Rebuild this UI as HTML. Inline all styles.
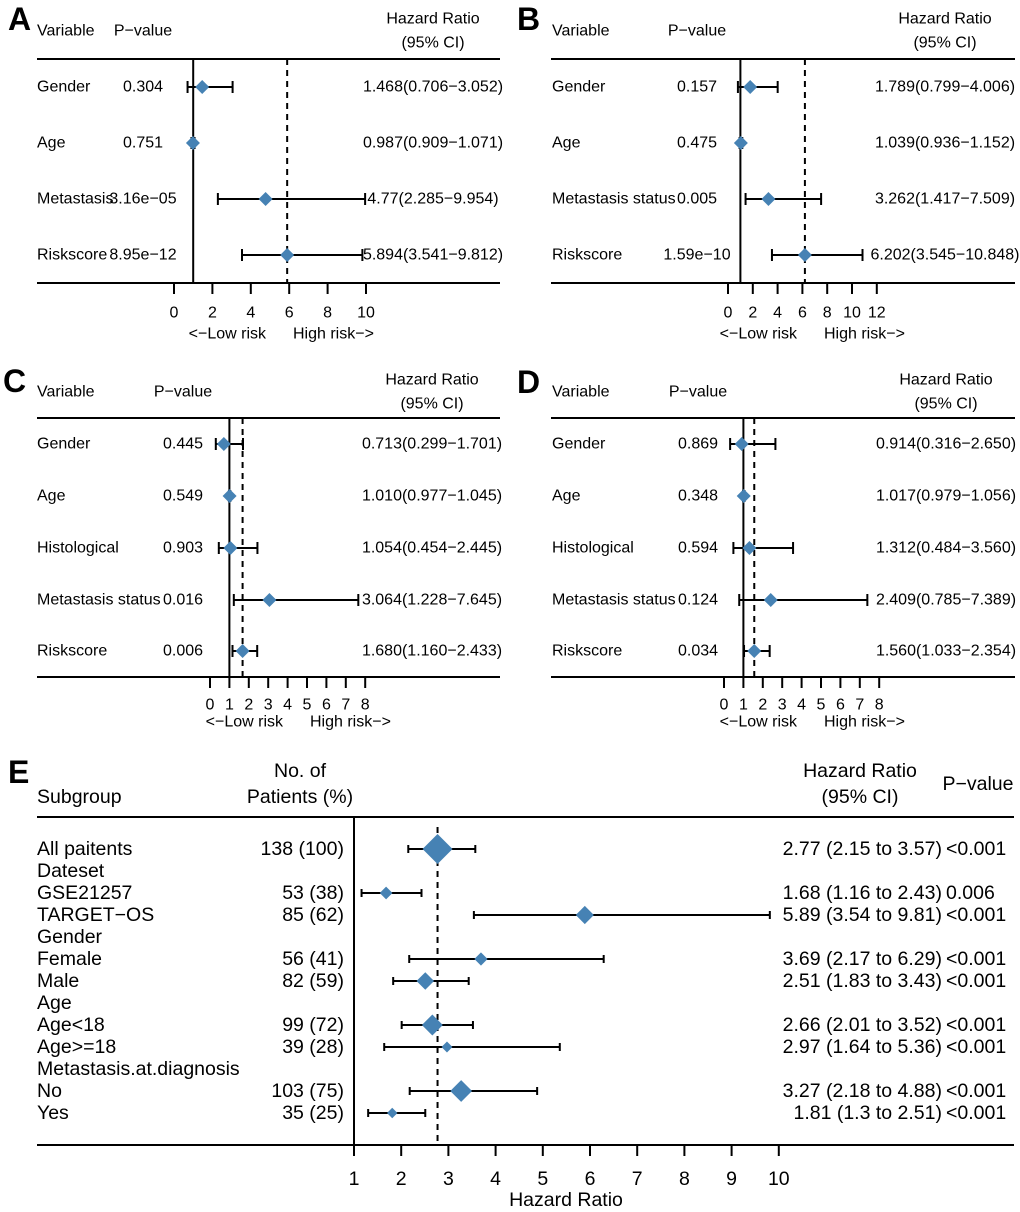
<!DOCTYPE html>
<html><head><meta charset="utf-8"><style>
html,body{margin:0;padding:0;background:#fff;}
svg{display:block;font-family:"Liberation Sans",Arial,sans-serif;}
</style></head><body>
<svg id="fig" width="1020" height="1212" viewBox="0 0 1020 1212" xmlns="http://www.w3.org/2000/svg"></svg>
<script>
// ---- Panel A data ----
const aVars = ["Gender","Age","Metastasis","Riskscore"];
const aP = ["0.304","0.751","3.16e\u221205","8.95e\u221212"];
const aHR = [1.468,0.987,4.77,5.894];
const aLo = [0.706,0.909,2.285,3.541];
const aHi = [3.052,1.071,9.954,9.812];
const aLabels = ["1.468(0.706\u22123.052)","0.987(0.909\u22121.071)","4.77(2.285\u22129.954)","5.894(3.541\u22129.812)"];
const aTicks = [0,2,4,6,8,10];
// ---- Panel B data ----
const bVars = ["Gender","Age","Metastasis status","Riskscore"];
const bP = ["0.157","0.475","0.005","1.59e\u221210"];
const bHR = [1.789,1.039,3.262,6.202];
const bLo = [0.799,0.936,1.417,3.545];
const bHi = [4.006,1.152,7.509,10.848];
const bLabels = ["1.789(0.799\u22124.006)","1.039(0.936\u22121.152)","3.262(1.417\u22127.509)","6.202(3.545\u221210.848)"];
const bTicks = [0,2,4,6,8,10,12];
// ---- Panel C data ----
const cVars = ["Gender","Age","Histological","Metastasis status","Riskscore"];
const cP = ["0.445","0.549","0.903","0.016","0.006"];
const cHR = [0.713,1.010,1.054,3.064,1.680];
const cLo = [0.299,0.977,0.454,1.228,1.160];
const cHi = [1.701,1.045,2.445,7.645,2.433];
const cLabels = ["0.713(0.299\u22121.701)","1.010(0.977\u22121.045)","1.054(0.454\u22122.445)","3.064(1.228\u22127.645)","1.680(1.160\u22122.433)"];
const cTicks = [0,1,2,3,4,5,6,7,8];
// ---- Panel D data ----
const dVars = ["Gender","Age","Histological","Metastasis status","Riskscore"];
const dP = ["0.869","0.348","0.594","0.124","0.034"];
const dHR = [0.914,1.017,1.312,2.409,1.560];
const dLo = [0.316,0.979,0.484,0.785,1.033];
const dHi = [2.650,1.056,3.560,7.389,2.354];
const dLabels = ["0.914(0.316\u22122.650)","1.017(0.979\u22121.056)","1.312(0.484\u22123.560)","2.409(0.785\u22127.389)","1.560(1.033\u22122.354)"];
const dTicks = [0,1,2,3,4,5,6,7,8];
// ---- Panel E data ----
const eRows = ["All paitents","Dateset","GSE21257","TARGET\u2212OS","Gender","Female","Male","Age","Age<18","Age>=18","Metastasis.at.diagnosis","No","Yes"];
const eN = ["138 (100)","","53 (38)","85 (62)","","56 (41)","82 (59)","","99 (72)","39 (28)","","103 (75)","35 (25)"];
const eHR = [2.77,null,1.68,5.89,null,3.69,2.51,null,2.66,2.97,null,3.27,1.81];
const eLo = [2.15,null,1.16,3.54,null,2.17,1.83,null,2.01,1.64,null,2.18,1.3];
const eHi = [3.57,null,2.43,9.81,null,6.29,3.43,null,3.52,5.36,null,4.88,2.51];
const eWeight = [138,0,53,85,0,56,82,0,99,39,0,103,35];
const eHRtxt = ["2.77 (2.15 to 3.57)","","1.68 (1.16 to 2.43)","5.89 (3.54 to 9.81)","","3.69 (2.17 to 6.29)","2.51 (1.83 to 3.43)","","2.66 (2.01 to 3.52)","2.97 (1.64 to 5.36)","","3.27 (2.18 to 4.88)","1.81 (1.3 to 2.51)"];
const ePv = ["<0.001","","0.006","<0.001","","<0.001","<0.001","","<0.001","<0.001","","<0.001","<0.001"];
const eTicks = [1,2,3,4,5,6,7,8,9,10];
const eSummary = 2.77;

const NS="http://www.w3.org/2000/svg";
const svg=document.getElementById('fig');
const BLUE="#4682B4";
const FS=16, EFS=19.5;
function mk(tag,attrs,parent){const e=document.createElementNS(NS,tag);for(const k in attrs)e.setAttribute(k,attrs[k]);(parent||svg).appendChild(e);return e;}
function txt(s,x,y,size,anchor,parent,weight){const t=mk('text',{x:x,y:y,'font-size':size,'text-anchor':anchor||'start','dominant-baseline':'central',fill:'#000'},parent);if(weight)t.setAttribute('font-weight',weight);t.textContent=s;return t;}
function line(x1,y1,x2,y2,parent,w,dash){const l=mk('line',{x1:x1,y1:y1,x2:x2,y2:y2,stroke:'#000','stroke-width':w||2},parent);if(dash)l.setAttribute('stroke-dasharray',dash);return l;}
function diamond(cx,cy,r,parent){return mk('polygon',{points:`${cx-r},${cy} ${cx},${cy-r} ${cx+r},${cy} ${cx},${cy+r}`,fill:BLUE},parent);}

function panel(cfg){
  const g=mk('g',{});
  
  
  const L=txt(cfg.letter,cfg.lx,cfg.ly,32,'start',g,'bold');
  
  const sx=v=>cfg.x0+(v-cfg.t0)*cfg.unit;
  txt("Variable",cfg.varX,cfg.hy,FS,'start',g);
  txt("P\u2212value",cfg.pX,cfg.hy,FS,'middle',g);
  txt("Hazard Ratio",cfg.hrX,cfg.hy-12,FS,'middle',g);
  txt("(95% CI)",cfg.hrX,cfg.hy+12,FS,'middle',g);
  line(cfg.left,cfg.top,cfg.right,cfg.top,g);
  line(cfg.left,cfg.bot,cfg.right,cfg.bot,g);
  line(sx(1),cfg.top,sx(1),cfg.bot,g);
  const dl=line(sx(cfg.hr[cfg.hr.length-1]),cfg.top,sx(cfg.hr[cfg.hr.length-1]),cfg.bot,g,2,'6,5');
  
  cfg.vars.forEach((v,i)=>{
    const y=cfg.rows[i];
    const r=mk('g',{},g);
    
    
    txt(v,cfg.varX,y,FS,'start',r);
    txt(cfg.p[i],cfg.pX,y,FS,'middle',r);
    txt(cfg.labels[i],cfg.hrX,y,FS,'middle',r);
    line(sx(cfg.lo[i]),y,sx(cfg.hi[i]),y,r);
    line(sx(cfg.lo[i]),y-6,sx(cfg.lo[i]),y+6,r);
    line(sx(cfg.hi[i]),y-6,sx(cfg.hi[i]),y+6,r);
    const d=diamond(sx(cfg.hr[i]),y,7,r);
    
  });
  cfg.ticks.forEach(t=>{line(sx(t),cfg.bot,sx(t),cfg.bot+11,g);txt(String(t),sx(t),cfg.tickY,FS,'middle',g);});
  txt("<\u2212Low risk",cfg.lowEnd,cfg.riskY,FS,'end',g);
  txt("High risk\u2212>",cfg.lowEnd+27,cfg.riskY,FS,'start',g);
}

panel({name:'panel-a',letter:'A',lx:8,ly:19,x0:174,t0:0,unit:19.2,left:37,right:500,top:59,bot:283,hy:31,varX:37,pX:143,hrX:433,rows:[87,143,199,255],
  vars:aVars,p:aP,hr:aHR,lo:aLo,hi:aHi,labels:aLabels,ticks:aTicks,tickY:313,riskY:334,lowEnd:266});
panel({name:'panel-b',letter:'B',lx:517,ly:19,x0:728,t0:0,unit:12.4,left:551,right:1015,top:59,bot:283,hy:31,varX:552,pX:697,hrX:945,rows:[87,143,199,255],
  vars:bVars,p:bP,hr:bHR,lo:bLo,hi:bHi,labels:bLabels,ticks:bTicks,tickY:313,riskY:334,lowEnd:797});
panel({name:'panel-c',letter:'C',lx:3,ly:381,x0:210,t0:0,unit:19.4,left:37,right:500,top:418,bot:677,hy:392,varX:37,pX:183,hrX:432,rows:[444,496,548,600,651],
  vars:cVars,p:cP,hr:cHR,lo:cLo,hi:cHi,labels:cLabels,ticks:cTicks,tickY:705,riskY:722,lowEnd:283});
panel({name:'panel-d',letter:'D',lx:517,ly:382,x0:724,t0:0,unit:19.4,left:551,right:1015,top:418,bot:677,hy:392,varX:552,pX:698,hrX:946,rows:[444,496,548,600,651],
  vars:dVars,p:dP,hr:dHR,lo:dLo,hi:dHi,labels:dLabels,ticks:dTicks,tickY:705,riskY:722,lowEnd:797});

// ---- Panel E ----
(function(){
  const g=mk('g',{});
  
  
  const L=txt('E',8,772,32,'start',g,'bold');
  
  const x0=354, unit=47.2, sx=v=>x0+(v-1)*unit;
  const rowY=[849,871,893,915,937,959,981,1003,1025,1047,1069,1091,1113];
  const top=817, bot=1145;
  txt("Subgroup",37,797,EFS,'start',g);
  txt("No. of",300,771,EFS,'middle',g);
  txt("Patients (%)",300,797,EFS,'middle',g);
  txt("Hazard Ratio",860,771,EFS,'middle',g);
  txt("(95% CI)",860,797,EFS,'middle',g);
  txt("P\u2212value",978,784,EFS,'middle',g);
  line(37,top,1014,top,g);
  line(37,bot,1014,bot,g);
  line(x0,top,x0,bot,g);
  const dl=line(sx(eSummary),top+10,sx(eSummary),bot,g,2,'6,5');
  
  const maxW=Math.max(...eWeight);
  eRows.forEach((r,i)=>{
    const y=rowY[i];
    const rg=mk('g',{},g);
    
    
    txt(r,37,y,EFS,'start',rg);
    if(eN[i]) txt(eN[i],344,y,EFS,'end',rg);
    if(eHR[i]!==null){
      txt(eHRtxt[i],942,y,EFS,'end',rg);
      txt(ePv[i],946,y,EFS,'start',rg);
      line(sx(eLo[i]),y,sx(eHi[i]),y,rg);
      line(sx(eLo[i]),y-4,sx(eLo[i]),y+4,rg);
      line(sx(eHi[i]),y-4,sx(eHi[i]),y+4,rg);
      const d=diamond(sx(eHR[i]),y,4+11*Math.pow(eWeight[i]/maxW,1.6),rg);
      
    }
  });
  eTicks.forEach(t=>{line(sx(t),bot,sx(t),bot+11,g);txt(String(t),sx(t),1179,EFS,'middle',g);});
  const xt=txt("Hazard Ratio",566,1200,EFS,'middle',g);
  
})();
</script>
</body></html>
